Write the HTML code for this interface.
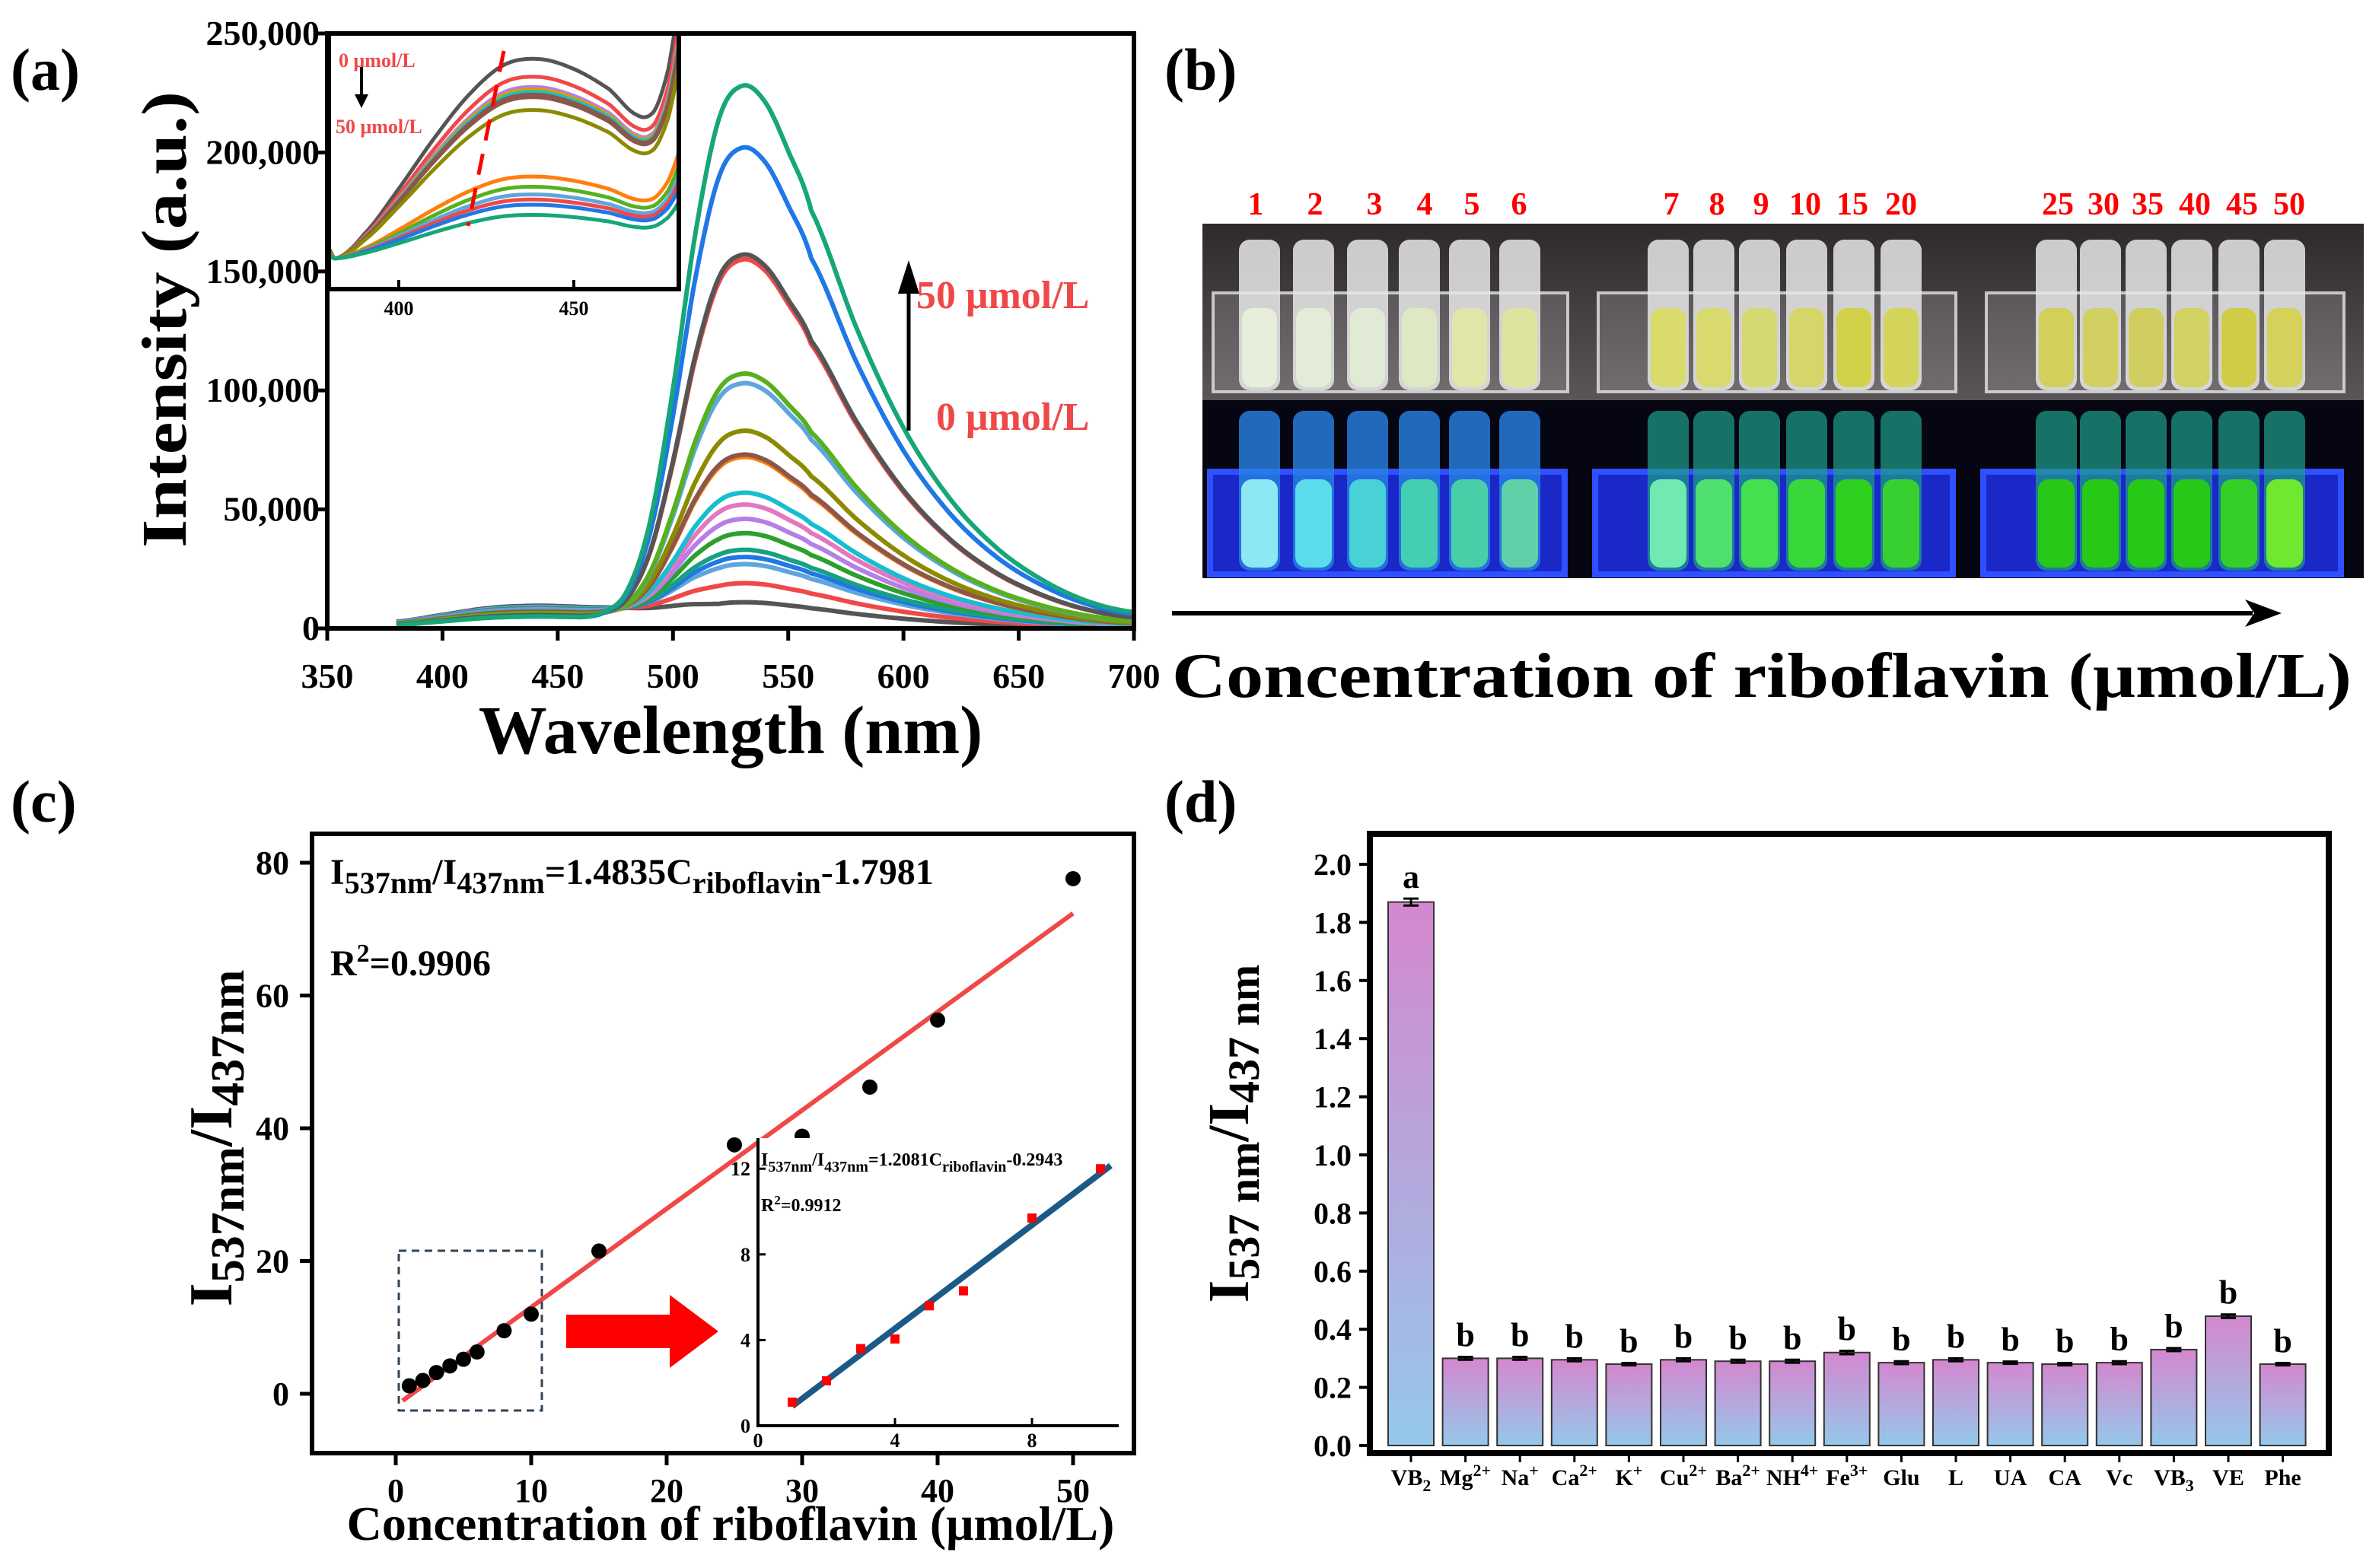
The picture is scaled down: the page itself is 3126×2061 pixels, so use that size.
<!DOCTYPE html>
<html><head><meta charset="utf-8">
<style>
html,body{margin:0;padding:0;background:#fff;}
svg{display:block;font-family:"Liberation Serif",serif;font-weight:bold;}
</style></head>
<body>
<svg id="fig" xmlns="http://www.w3.org/2000/svg" width="3126" height="2061" viewBox="0 0 3126 2061">
<defs>
<linearGradient id="barGrad" x1="0" y1="0" x2="0" y2="1"><stop offset="0" stop-color="#d487cf"/><stop offset="1" stop-color="#95c8ea"/></linearGradient>
<linearGradient id="topBg" x1="0" y1="0" x2="0" y2="1"><stop offset="0" stop-color="#2e292c"/><stop offset="1" stop-color="#5a5558"/></linearGradient>
<clipPath id="clipA"><rect x="430" y="44" width="1060" height="786"/></clipPath>
<clipPath id="clipInset"><rect x="435" y="47" width="454" height="330"/></clipPath>
</defs>
</svg>
<script>
// ---------- DATA ----------
const specPeaks = [228000,202000,157000,155000,107000,103000,83000,73000,72000,57000,52000,46000,40000,33000,30000,27000,19000,11000];
const specBump = [5000,5000,5500,5500,6000,6000,6500,7000,7000,7500,7500,8000,8000,8500,8500,9000,9000,9500];
const profileL = [460,470,480,490,500,510,520,530,540,550,560,580,600,620,640,660,680,700];
const profileV = [0,0.01,0.05,0.18,0.43,0.73,0.94,1,0.97,0.88,0.77,0.55,0.37,0.24,0.15,0.09,0.05,0.03];
const bumpL = [380,400,420,440,460,480,500,520];
const bumpV = [0.3,0.6,0.9,1,0.95,0.85,0.5,0];
const aXTicks = [350,400,450,500,550,600,650,700];
const aYTicks = [0,50000,100000,150000,200000,250000];
const aYLabels = ["0","50,000","100,000","150,000","200,000","250,000"];
const insetAmps = [90,83,79,78,77,76,75,70,44,40,37,35,33,29];
const insetL = [380,382,390,400,410,420,430,440,450,460,468,473,477,480,483];
const insetP = [0.05,0,0.12,0.35,0.6,0.82,0.97,1.0,0.95,0.85,0.72,0.74,0.95,1.3,1.8];
const insetXTicks = [400,450];
const cX = [1,2,3,4,5,6,8,10,15,25,30,35,40,50];
const cY = [1.2,2.0,3.2,4.2,5.2,6.3,9.5,12,21.5,37.5,38.8,46.2,56.3,77.6];
const cSlope = 1.4835, cIntercept = -1.7981;
const cXTicks = [0,10,20,30,40,50];
const cYTicks = [0,20,40,60,80];
const ciX = [1,2,3,4,5,6,8,10];
const ciY = [1.1,2.1,3.6,4.05,5.6,6.3,9.7,12];
const ciSlope = 1.2081, ciIntercept = -0.2943;
const ciXTicks = [0,4,8];
const ciYTicks = [0,4,8,12];
const dCats = ["VB2","Mg2+","Na+","Ca2+","K+","Cu2+","Ba2+","NH4+","Fe3+","Glu","L","UA","CA","Vc","VB3","VE","Phe"];
const dVals = [1.87,0.30,0.30,0.295,0.28,0.295,0.29,0.29,0.32,0.285,0.295,0.285,0.28,0.285,0.33,0.445,0.28];
const dErr = [0.012,0.005,0.005,0.005,0.004,0.005,0.005,0.005,0.006,0.005,0.005,0.004,0.004,0.005,0.005,0.006,0.004];
const dSig = ["a","b","b","b","b","b","b","b","b","b","b","b","b","b","b","b","b"];
const dYTicks = [0,0.2,0.4,0.6,0.8,1.0,1.2,1.4,1.6,1.8,2.0];
const bLabels = ["1","2","3","4","5","6","7","8","9","10","15","20","25","30","35","40","45","50"];

// ---------- HELPERS ----------
const NS="http://www.w3.org/2000/svg";
const svg=document.getElementById('fig');
function mk(tag,attrs,parent){const e=document.createElementNS(NS,tag);for(const k in attrs)e.setAttribute(k,attrs[k]);(parent||svg).appendChild(e);return e;}
function grp(name){const g=mk('g',{});return g;}
function interp(xs,ys,x){
  if(x<=xs[0])return ys[0];
  const n=xs.length;
  if(x>=xs[n-1])return ys[n-1];
  let i=1;while(x>xs[i])i++;
  const t=(x-xs[i-1])/(xs[i]-xs[i-1]);
  const p0=ys[Math.max(i-2,0)],p1=ys[i-1],p2=ys[i],p3=ys[Math.min(i+1,n-1)];
  const t2=t*t,t3=t2*t;
  return 0.5*((2*p1)+(-p0+p2)*t+(2*p0-5*p1+4*p2-p3)*t2+(-p0+3*p1-3*p2+p3)*t3);
}
const specColors=['#16a67a','#1f78e6','#555555','#f04848','#57b01e','#5ea6dc','#8c8a00','#8c564b','#ff7f0e','#17becf','#e377c2','#b57ee8','#2ca02c','#19a080','#1f78e6','#5ea6dc','#f04848','#555555'];
const insetColors=['#555555','#f04848','#b57ee8','#d4a000','#17becf','#8c564b','#8c564b','#8c8a00','#ff7f0e','#57b01e','#5ea6dc','#f04848','#1f78e6','#16a67a'];

// ---------- PANEL A ----------
const gA=grp('panel-a');
const ax=v=>430+(v-350)*(1060/350);
const ay=v=>826-v*(782/250000);
let t;
t=mk('text',{x:14,y:118,'font-size':78},gA);t.textContent='(a)';
const gSpec=mk('g',{'clip-path':'url(#clipA)'},gA);

for(let i=specPeaks.length-1;i>=0;i--){
  let d='';
  for(let l=380;l<=700;l+=1){const v=specPeaks[i]*Math.max(0,interp(profileL,profileV,l))+specBump[i]*Math.max(0,interp(bumpL,bumpV,l));d+=(d?'L':'M')+ax(l).toFixed(1)+' '+ay(v).toFixed(1);}
  const p=mk('path',{d:d,fill:'none',stroke:specColors[i],'stroke-width':6,'stroke-linejoin':'round'},gSpec);
  
}
let r=mk('rect',{x:430,y:44,width:1060,height:782,fill:'none',stroke:'#000','stroke-width':6},gA);

aXTicks.forEach(v=>{
  const l=mk('line',{x1:ax(v),x2:ax(v),y1:826,y2:842,stroke:'#000','stroke-width':5},gA);
  const tx=mk('text',{x:ax(v),y:904,'font-size':46,'text-anchor':'middle'},gA);tx.textContent=v;
});
aYTicks.forEach((v,i)=>{
  const l=mk('line',{x1:414,x2:430,y1:ay(v),y2:ay(v),stroke:'#000','stroke-width':5},gA);
  const tx=mk('text',{x:420,y:ay(v)+15,'font-size':46,'text-anchor':'end'},gA);tx.textContent=aYLabels[i];
});
t=mk('text',{x:960,y:990,'font-size':90,'text-anchor':'middle'},gA);t.textContent='Wavelength (nm)';
t=mk('text',{x:0,y:0,'font-size':84,'text-anchor':'middle',textLength:600,lengthAdjust:'spacingAndGlyphs',transform:'translate(244,420) rotate(-90)'},gA);t.textContent='Intensity (a.u.)';
t=mk('text',{x:1204,y:405,'font-size':52,fill:'#f04848'},gA);t.textContent='50 μmol/L';
t=mk('text',{x:1230,y:565,'font-size':52,fill:'#f04848'},gA);t.textContent='0 μmol/L';
let ln=mk('line',{x1:1194,y1:566,x2:1194,y2:380,stroke:'#000','stroke-width':5},gA);
let pg=mk('polygon',{points:'1194,342 1180,386 1208,386',fill:'#000'},gA);
const gI=grp('inset-a');
r=mk('rect',{x:432,y:44,width:460,height:336,fill:'#fff',stroke:'#000','stroke-width':6},gI);
const ix=l=>432+(l-380)*4.6;
const iy=v=>380-v*3.36;
const gIC=mk('g',{'clip-path':'url(#clipInset)'},gI);
insetAmps.forEach((a,i)=>{
  let d='';
  for(let l=380;l<=483;l+=0.5){const v=12+(a-12)*interp(insetL,insetP,l);d+=(d?'L':'M')+ix(l).toFixed(1)+' '+iy(v).toFixed(1);}
  const p=mk('path',{d:d,fill:'none',stroke:insetColors[i],'stroke-width':5},gIC);
});
ln=mk('line',{x1:662,y1:67,x2:615,y2:297,stroke:'#f00','stroke-width':5,'stroke-dasharray':'28 18'},gI);
t=mk('text',{x:445,y:88,'font-size':26,fill:'#f04848'},gI);t.textContent='0 μmol/L';
t=mk('text',{x:441,y:175,'font-size':26,fill:'#f04848'},gI);t.textContent='50 μmol/L';
ln=mk('line',{x1:475,y1:88,x2:475,y2:128,stroke:'#000','stroke-width':4},gI);
pg=mk('polygon',{points:'475,142 466,124 484,124',fill:'#000'},gI);
insetXTicks.forEach(v=>{
  const l=mk('line',{x1:ix(v),x2:ix(v),y1:380,y2:368,stroke:'#000','stroke-width':4},gI);
  const tx=mk('text',{x:ix(v),y:414,'font-size':26,'text-anchor':'middle'},gI);tx.textContent=v;
});

// ---------- PANEL B ----------
const gB=grp('panel-b');
t=mk('text',{x:1530,y:118,'font-size':78},gB);t.textContent='(b)';
const bLabelX=[1650,1728,1806,1872,1934,1996,2196,2256,2314,2372,2434,2498,2704,2764,2822,2884,2946,3008];
const tubeX=[1655,1726,1797,1865,1931,1997,2192,2252,2312,2374,2436,2498,2702,2760,2820,2880,2942,3002];
const photoPanels=[[1580,2086],[2086,2596],[2596,3106]];
photoPanels.forEach((pp,k)=>{
  let a=mk('rect',{x:pp[0],y:294,width:pp[1]-pp[0],height:232,fill:'url(#topBg)'},gB);
  a=mk('rect',{x:pp[0],y:526,width:pp[1]-pp[0],height:234,fill:'#060612'},gB);
  a=mk('rect',{x:pp[0]+10,y:620,width:pp[1]-pp[0]-40,height:135,fill:'#1a28c8',stroke:'#3050ff','stroke-width':8},gB);
  a=mk('rect',{x:pp[0]+14,y:385,width:pp[1]-pp[0]-40,height:130,fill:'rgba(255,255,255,0.15)',stroke:'rgba(230,230,230,0.8)','stroke-width':4},gB);
});
const liqTop=['#e8eedc','#e4ecd8','#e0ead4','#dfe8c4','#dfe6a8','#dce49e','#d9dc6a','#d8da6e','#d6d872','#d5d56a','#d2d24a','#d4d45a','#d0d05a','#d2d060','#d0ce60','#d2d262','#d0cc48','#d4d25a'];
const liqUv=['#8ee8f4','#5cdceb','#48d2d8','#44d0b0','#48cfa8','#60d0a8','#70eab0','#50e070','#44e050','#38d838','#30d020','#38d030','#28c818','#28c818','#28c818','#28c818','#34d028','#70e830'];
tubeX.forEach((x,i)=>{
  let a=mk('rect',{x:x-27,y:315,width:54,height:198,rx:14,fill:'rgba(232,232,232,0.85)'},gB);
  a=mk('rect',{x:x-23,y:405,width:46,height:104,rx:14,fill:liqTop[i]},gB);
  a=mk('rect',{x:x-27,y:540,width:54,height:210,rx:14,fill:i<6?'rgba(40,130,230,0.8)':'rgba(30,160,140,0.7)'},gB);
  a=mk('rect',{x:x-24,y:630,width:48,height:116,rx:14,fill:liqUv[i]},gB);
});
bLabels.forEach((s,i)=>{
  const tx=mk('text',{x:bLabelX[i],y:282,'font-size':42,fill:'#f00','text-anchor':'middle'},gB);tx.textContent=s;
});
ln=mk('line',{x1:1540,y1:806,x2:2960,y2:806,stroke:'#000','stroke-width':6},gB);
pg=mk('polygon',{points:'2998,806 2950,788 2962,806 2950,824',fill:'#000'},gB);
t=mk('text',{x:1540,y:916,'font-size':84,textLength:1550,lengthAdjust:'spacingAndGlyphs'},gB);t.textContent='Concentration of riboflavin (μmol/L)';

// ---------- PANEL C ----------
const gC=grp('panel-c');
const cx=v=>520+v*17.8;
const cy=v=>1832-v*8.725;
t=mk('text',{x:14,y:1080,'font-size':78},gC);t.textContent='(c)';
r=mk('rect',{x:410,y:1096,width:1080,height:814,fill:'none',stroke:'#000','stroke-width':6},gC);
cXTicks.forEach(v=>{
  const l=mk('line',{x1:cx(v),x2:cx(v),y1:1910,y2:1926,stroke:'#000','stroke-width':5},gC);
  const tx=mk('text',{x:cx(v),y:1974,'font-size':44,'text-anchor':'middle'},gC);tx.textContent=v;
});
cYTicks.forEach(v=>{
  const l=mk('line',{x1:394,x2:410,y1:cy(v),y2:cy(v),stroke:'#000','stroke-width':5},gC);
  const tx=mk('text',{x:380,y:cy(v)+15,'font-size':44,'text-anchor':'end'},gC);tx.textContent=v;
});
t=mk('text',{x:960,y:2024,'font-size':64,'text-anchor':'middle'},gC);t.textContent='Concentration of riboflavin (μmol/L)';
t=mk('text',{x:0,y:0,'font-size':80,'text-anchor':'middle',transform:'translate(304,1496) rotate(-90)'},gC);
t.innerHTML='I<tspan dy="16" font-size="62">537nm</tspan><tspan dy="-16">/I</tspan><tspan dy="16" font-size="62">437nm</tspan>';

ln=mk('line',{x1:cx(0.5),y1:cy(cSlope*0.5+cIntercept),x2:cx(50),y2:cy(cSlope*50+cIntercept),stroke:'#f04848','stroke-width':6},gC);
cX.forEach((x,i)=>{const c=mk('circle',{cx:cx(x),cy:cy(cY[i]),r:10,fill:'#000'},gC);});
t=mk('text',{x:434,y:1162,'font-size':48},gC);
t.innerHTML='I<tspan dy="12" font-size="40">537nm</tspan><tspan dy="-12">/I</tspan><tspan dy="12" font-size="40">437nm</tspan><tspan dy="-12">=1.4835C</tspan><tspan dy="12" font-size="40">riboflavin</tspan><tspan dy="-12">-1.7981</tspan>';

t=mk('text',{x:434,y:1282,'font-size':48},gC);t.innerHTML='R<tspan dy="-18" font-size="34">2</tspan><tspan dy="18">=0.9906</tspan>';
r=mk('rect',{x:524,y:1644,width:188,height:210,fill:'none',stroke:'#345','stroke-width':3,'stroke-dasharray':'10 7'},gC);
pg=mk('polygon',{points:'744,1728 880,1728 880,1702 944,1750 880,1798 880,1772 744,1772',fill:'#f00'},gC);
const icx=v=>996+v*45;
const icy=v=>1874-v*28.15;
const gCI=grp('inset-c');
r=mk('rect',{x:996,y:1496,width:474,height:378,fill:'#fff'},gCI);
ln=mk('polyline',{points:'996,1496 996,1874 1470,1874',fill:'none',stroke:'#000','stroke-width':4},gCI);
ciYTicks.forEach(v=>{
  const l=mk('line',{x1:996,x2:1006,y1:icy(v),y2:icy(v),stroke:'#000','stroke-width':3},gCI);
  const tx=mk('text',{x:986,y:icy(v)+9,'font-size':26,'text-anchor':'end'},gCI);tx.textContent=v;
});
ciXTicks.forEach(v=>{
  const l=mk('line',{x1:icx(v),x2:icx(v),y1:1874,y2:1864,stroke:'#000','stroke-width':3},gCI);
  const tx=mk('text',{x:icx(v),y:1902,'font-size':26,'text-anchor':'middle'},gCI);tx.textContent=v;
});
ln=mk('line',{x1:icx(1),y1:icy(ciSlope*1+ciIntercept),x2:icx(10.3),y2:icy(ciSlope*10.3+ciIntercept),stroke:'#1b5a86','stroke-width':8},gCI);
ciX.forEach((x,i)=>{const s=mk('rect',{x:icx(x)-6,y:icy(ciY[i])-6,width:12,height:12,fill:'#f00'},gCI);});
t=mk('text',{x:1000,y:1532,'font-size':24},gCI);
t.innerHTML='I<tspan dy="8" font-size="20">537nm</tspan><tspan dy="-8">/I</tspan><tspan dy="8" font-size="20">437nm</tspan><tspan dy="-8">=1.2081C</tspan><tspan dy="8" font-size="20">riboflavin</tspan><tspan dy="-8">-0.2943</tspan>';

t=mk('text',{x:1000,y:1592,'font-size':24},gCI);t.innerHTML='R<tspan dy="-9" font-size="17">2</tspan><tspan dy="9">=0.9912</tspan>';

// ---------- PANEL D ----------
const gD=grp('panel-d');
const dy=v=>1900-v*382;
const bx=i=>1854+i*71.6;
t=mk('text',{x:1530,y:1080,'font-size':78},gD);t.textContent='(d)';
dVals.forEach((v,i)=>{
  const b=mk('rect',{x:bx(i)-30,y:dy(v),width:60,height:dy(0)-dy(v),fill:'url(#barGrad)',stroke:'#333','stroke-width':2},gD);
  const e=mk('path',{d:`M${bx(i)-10} ${dy(v+dErr[i])}H${bx(i)+10}M${bx(i)} ${dy(v+dErr[i])}V${dy(v-dErr[i])}M${bx(i)-10} ${dy(v-dErr[i])}H${bx(i)+10}`,stroke:'#000','stroke-width':3,fill:'none'},gD);
  const s=mk('text',{x:bx(i),y:dy(v+dErr[i])-14,'font-size':44,'text-anchor':'middle'},gD);s.textContent=dSig[i];
  const lb=mk('text',{x:bx(i),y:1952,'font-size':30,'text-anchor':'middle'},gD);
  if(dCats[i]==='VB2'||dCats[i]==='VB3'){lb.innerHTML='VB<tspan dy="8" font-size="22">'+dCats[i][2]+'</tspan>';}
  else if(/\+$/.test(dCats[i])){const base=dCats[i].replace(/\d?\+$/,'');const sup=dCats[i].slice(base.length);lb.innerHTML=base+'<tspan dy="-12" font-size="22">'+sup+'</tspan>';}
  else lb.textContent=dCats[i];
  
});
r=mk('rect',{x:1800,y:1096,width:1260,height:814,fill:'none',stroke:'#000','stroke-width':8},gD);
dYTicks.forEach(v=>{
  const l=mk('line',{x1:1786,x2:1800,y1:dy(v),y2:dy(v),stroke:'#000','stroke-width':4},gD);
  const tx=mk('text',{x:1776,y:dy(v)+14,'font-size':40,'text-anchor':'end'},gD);tx.textContent=v.toFixed(1);
});
dCats.forEach((c,i)=>{const l=mk('line',{x1:bx(i),x2:bx(i),y1:1910,y2:1922,stroke:'#000','stroke-width':3},gD);});
t=mk('text',{x:0,y:0,'font-size':76,'text-anchor':'middle',transform:'translate(1640,1490) rotate(-90)'},gD);
t.innerHTML='I<tspan dy="14" font-size="58">537 nm</tspan><tspan dy="-14">/I</tspan><tspan dy="14" font-size="58">437 nm</tspan>';

</script>
</body></html>
